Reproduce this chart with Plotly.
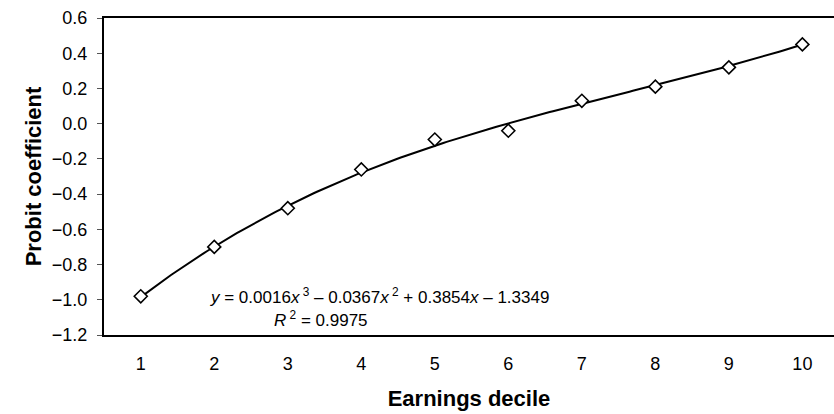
import numpy as np
import plotly.graph_objects as go

deciles = [1, 2, 3, 4, 5, 6, 7, 8, 9, 10]
probit = [-0.98, -0.70, -0.48, -0.26, -0.09, -0.04, 0.13, 0.21, 0.32, 0.45]
# cubic trendline coefficients as printed on the chart (x^3, x^2, x, const)
trend_coef = [0.0016, -0.0367, 0.3854, -1.3349]
y_ticks = [0.6, 0.4, 0.2, 0.0, -0.2, -0.4, -0.6, -0.8, -1.0, -1.2]
y_tick_text = ["0.6", "0.4", "0.2", "0.0", "\u22120.2", "\u22120.4", "\u22120.6",
               "\u22120.8", "\u22121.0", "\u22121.2"]

xs = np.linspace(deciles[0], deciles[-1], 200)
ys = np.polyval(trend_coef, xs)

font = "Liberation Sans, Arial, sans-serif"
L, T, W, H = 104, 18, 730, 317

fig = go.Figure()
fig.add_trace(go.Scatter(x=xs, y=ys, mode="lines",
                         line=dict(color="black", width=2), hoverinfo="skip"))
fig.add_trace(go.Scatter(x=deciles, y=probit, mode="markers",
                         marker=dict(symbol="diamond", size=10, color="white",
                                     line=dict(color="black", width=1.6))))

fig.add_annotation(
    xref="paper", yref="paper", x=(208 - L) / W, y=(T + H - 296) / H,
    xanchor="left", yanchor="middle", showarrow=False,
    text="<i>y</i> = 0.0016<i>x</i><sup> 3</sup> \u2013 0.0367<i>x</i><sup> 2</sup> + 0.3854<i>x</i> \u2013 1.3349",
    font=dict(family=font, size=17, color="black"))
fig.add_annotation(
    xref="paper", yref="paper", x=(272 - L) / W, y=(T + H - 319) / H,
    xanchor="left", yanchor="middle", showarrow=False,
    text="<i>R</i><sup> 2</sup> = 0.9975",
    font=dict(family=font, size=17, color="black"))

fig.update_layout(
    width=834, height=414,
    margin=dict(l=L, r=834 - L - W, t=T, b=414 - T - H),
    paper_bgcolor="white", plot_bgcolor="white",
    showlegend=False,
    font=dict(family=font, size=18, color="black"),
    xaxis=dict(range=[0.5, 10.43], tickvals=deciles, showgrid=False, zeroline=False,
               showline=True, linecolor="black", linewidth=2, mirror=True,
               ticks="", ticklabelstandoff=11, tickfont=dict(size=18),
               title=dict(text="<b>Earnings decile</b>", standoff=18,
                          font=dict(size=22))),
    yaxis=dict(range=[-1.2, 0.6], tickvals=y_ticks, ticktext=y_tick_text,
               showgrid=False, zeroline=False, showline=True, linecolor="black",
               linewidth=2, ticks="outside", ticklen=5, tickcolor="#555",
               tickfont=dict(size=18), ticklabelstandoff=6,
               title=dict(text="<b>Probit coefficient</b>", standoff=4,
                          font=dict(size=22))),
)

fig.write_html("out.html", config={"displayModeBar": False},
               post_script="document.body.style.margin='0';")
